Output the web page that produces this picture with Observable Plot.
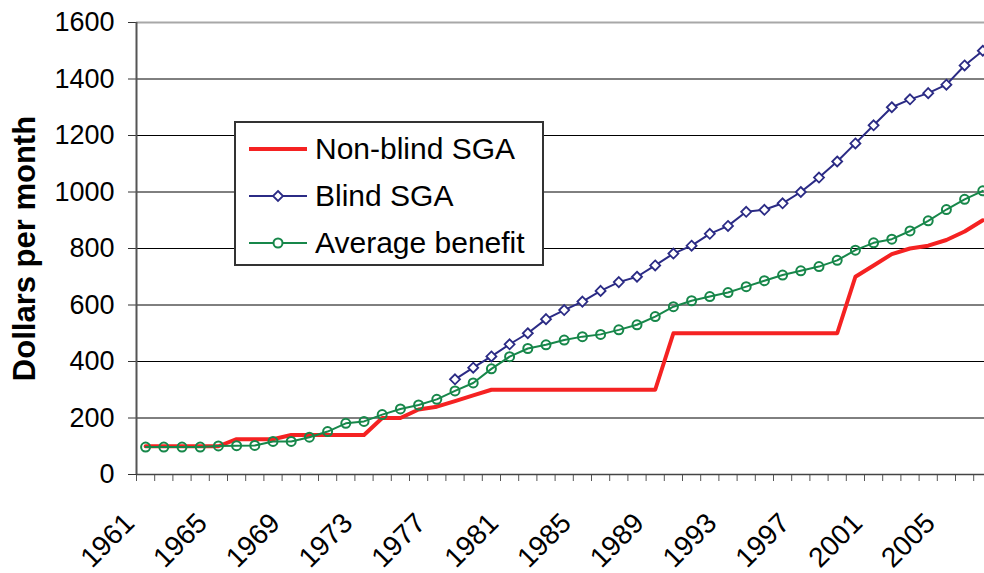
<!DOCTYPE html>
<html>
<head>
<meta charset="utf-8">
<script src="https://cdn.jsdelivr.net/npm/d3@7"></script>
<script src="https://cdn.jsdelivr.net/npm/@observablehq/plot@0.6"></script>
<style>
  html, body { margin: 0; padding: 0; background: white; overflow: hidden; }
  #wrap { position: relative; width: 984px; height: 573px; overflow: hidden; }
  #legend {
    position: absolute; left: 234px; top: 121px; width: 306px; height: 141px;
    border: 2px solid #333; background: white; box-sizing: content-box;
    font-family: Arial, "Liberation Sans", sans-serif; font-size: 30px; color: #000;
  }
  .row { position: absolute; left: 0; height: 40px; display: flex; align-items: center; }
  .row svg { margin-left: 13px; margin-right: 8px; }
</style>
</head>
<body>
<div id="wrap"></div>
<script>
// ---- data ----
const years = [1961,1962,1963,1964,1965,1966,1967,1968,1969,1970,
  1971,1972,1973,1974,1975,1976,1977,1978,1979,1980,
  1981,1982,1983,1984,1985,1986,1987,1988,1989,1990,
  1991,1992,1993,1994,1995,1996,1997,1998,1999,2000,
  2001,2002,2003,2004,2005,2006,2007];
const nonBlindSGA = [100,100,100,100,100,125,125,125,140,140,
  140,140,140,200,200,230,240,260,280,300,
  300,300,300,300,300,300,300,300,300,500,
  500,500,500,500,500,500,500,500,500,700,
  740,780,800,810,830,860,900];
const blindSGA = [null,null,null,null,null,null,null,null,null,null,
  null,null,null,null,null,null,null,337,378,418,
  461,500,550,582,612,650,681,700,740,782,
  810,852,880,930,937,960,1000,1051,1108,1172,
  1236,1300,1328,1350,1380,1448,1500];
const averageBenefit = [97,97,97,97,101,102,103,117,117,132,
  152,181,188,212,232,246,266,296,324,374,
  417,446,459,476,488,496,512,530,559,594,
  615,630,644,665,686,706,721,736,758,794,
  820,833,862,898,938,974,1004];
const yTicks = [0,200,400,600,800,1000,1200,1400,1600];
const xTickLabels = [1961,1965,1969,1973,1977,1981,1985,1989,1993,1997,2001,2005];
const seriesNames = ["Non-blind SGA", "Blind SGA", "Average benefit"];
const colors = {nonBlind: "#F52222", blind: "#2B2B85", avg: "#17874A"};

const rows = years.map((yr, i) => ({year: yr, nonBlind: nonBlindSGA[i], blind: blindSGA[i], avg: averageBenefit[i]}));
const blindRows = rows.filter(d => d.blind != null);
const boundaries = years.map(y => y - 0.5).concat([years[years.length - 1] + 0.5]);

const font = 'Arial, "Liberation Sans", sans-serif';

const chart = Plot.plot({
  width: 984,
  height: 573,
  marginLeft: 136,
  marginRight: -7.4,
  marginTop: 22,
  marginBottom: 99,
  x: {type: "linear", domain: [boundaries[0], boundaries[boundaries.length - 1]]},
  y: {domain: [0, 1600]},
  style: {fontFamily: font, color: "black", background: "white", overflow: "hidden"},
  marks: [
    Plot.ruleY(yTicks.filter(v => v > 0 && v < 1600), {stroke: "black", strokeWidth: 1}),
    Plot.ruleY([1600], {stroke: "#a8a8a8", strokeWidth: 2}),
    Plot.axisY({ticks: yTicks, tickSize: 8, tickPadding: 14, tickFormat: d => String(d), fontSize: 27, label: null, stroke: "#333"}),
    Plot.axisX({ticks: boundaries, tickSize: 7, tickFormat: () => "", label: null, stroke: "#555"}),
    Plot.axisX({ticks: xTickLabels, tickSize: 0, tickRotate: -45, tickPadding: 34, dx: -16, dy: 10, tickFormat: d => String(d), fontSize: 28, label: null}),
    Plot.ruleX([boundaries[0]], {stroke: "#555", strokeWidth: 2}),
    Plot.ruleY([0], {stroke: "#444", strokeWidth: 1.5}),
    Plot.text(["Dollars per month"], {frameAnchor: "left", textAnchor: "middle", rotate: -90, dx: -111, fontWeight: "bold", fontSize: 31, fill: "black"}),
    Plot.line(rows, {x: "year", y: "nonBlind", stroke: colors.nonBlind, strokeWidth: 4}),
    Plot.line(blindRows, {x: "year", y: "blind", stroke: colors.blind, strokeWidth: 2}),
    Plot.dot(blindRows, {x: "year", y: "blind", symbol: "diamond2", r: 4.5, stroke: colors.blind, fill: "white", strokeWidth: 1.8}),
    Plot.line(rows, {x: "year", y: "avg", stroke: colors.avg, strokeWidth: 2}),
    Plot.dot(rows, {x: "year", y: "avg", r: 4.5, stroke: colors.avg, fill: "none", strokeWidth: 2})
  ]
});

const wrap = document.getElementById("wrap");
wrap.appendChild(chart);

// legend overlay
const legend = document.createElement("div");
legend.id = "legend";
const legendDefs = [
  {name: seriesNames[0], color: colors.nonBlind, width: 4, marker: null},
  {name: seriesNames[1], color: colors.blind, width: 2, marker: "diamond"},
  {name: seriesNames[2], color: colors.avg, width: 2, marker: "circle"}
];
legendDefs.forEach((d, i) => {
  const row = document.createElement("div");
  row.className = "row";
  row.style.top = (6 + i * 47) + "px";
  let m = "";
  if (d.marker === "diamond") m = `<path d="M29,5 L34,10 L29,15 L24,10 Z" fill="white" stroke="${d.color}" stroke-width="1.8"/>`;
  if (d.marker === "circle") m = `<circle cx="29" cy="10" r="4.5" fill="white" stroke="${d.color}" stroke-width="2"/>`;
  row.innerHTML = `<svg width="58" height="20"><line x1="0" x2="58" y1="10" y2="10" stroke="${d.color}" stroke-width="${d.width}"/>${m}</svg><span>${d.name}</span>`;
  legend.appendChild(row);
});
wrap.appendChild(legend);
</script>
</body>
</html>
